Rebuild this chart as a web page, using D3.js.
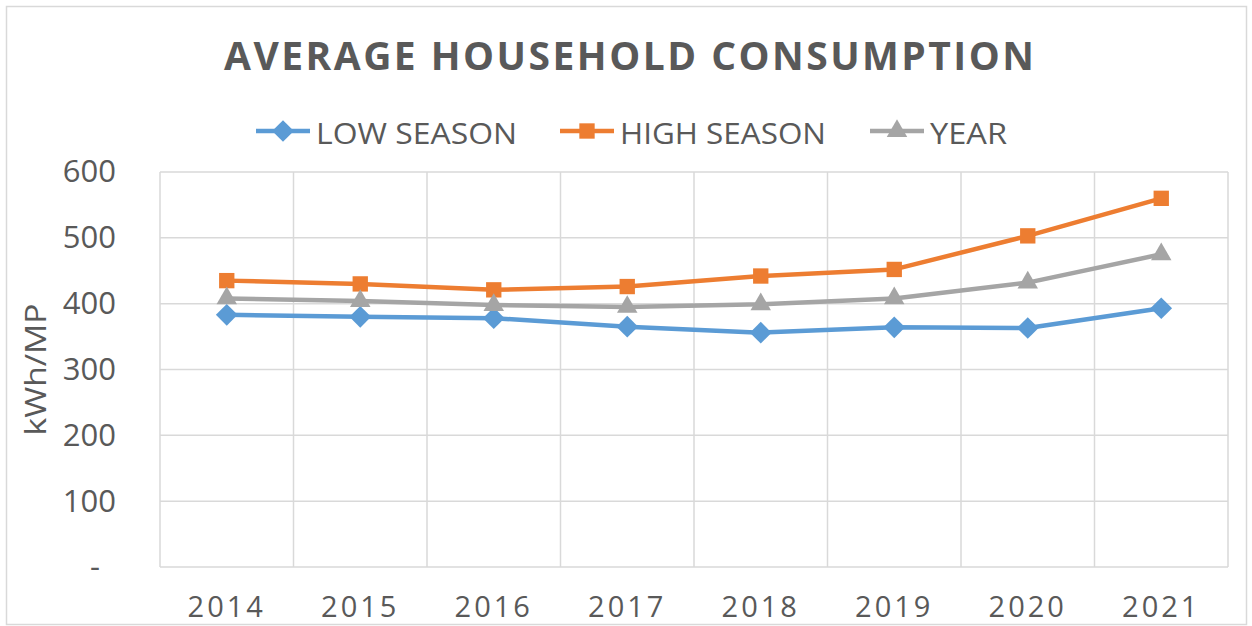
<!DOCTYPE html>
<html>
<head>
<meta charset="utf-8">
<script src="https://cdn.jsdelivr.net/npm/d3@7"></script>
<style>
  body { margin: 0; background: #fff; }
  text { font-family: "Open Sans", "Liberation Sans", sans-serif; fill: #595959; }
</style>
</head>
<body>
<div id="chart"></div>
<script>
// chart data
let years = ['2014', '2015', '2016', '2017', '2018', '2019', '2020', '2021'];
let lowSeason = [383, 380, 378, 365, 356, 364, 363, 393];
let highSeason = [435, 430, 421, 426, 442, 452, 503, 560];
let yearAvg = [408, 404, 398, 395, 399, 408, 432, 475];
let yTicks = [0, 100, 200, 300, 400, 500, 600];
let seriesNames = ['LOW SEASON', 'HIGH SEASON', 'YEAR'];

let series = [
  { name: seriesNames[0], values: lowSeason, color: '#5B9BD5', symbol: d3.symbolDiamond2, size: 300 },
  { name: seriesNames[1], values: highSeason, color: '#ED7D31', symbol: d3.symbolSquare2, size: 300 },
  { name: seriesNames[2], values: yearAvg, color: '#A5A5A5', symbol: d3.symbolTriangle2, size: 300 }
];

let width = 1252, height = 626;
let margin = { top: 172, right: 24, bottom: 59, left: 160 };

let svg = d3.select('#chart')
  .append('svg')
  .attr('width', width)
  .attr('height', height);

// outer border
svg.append('rect')
  .attr('x', 6.5).attr('y', 6.5)
  .attr('width', 1240).attr('height', 618)
  .attr('fill', 'none')
  .attr('stroke', '#d9d9d9')
  .attr('stroke-width', 1.5);

let xScale = d3.scaleBand()
  .domain(years)
  .range([margin.left, width - margin.right])
  .padding(0);

let yScale = d3.scaleLinear()
  .domain([0, 600])
  .range([height - margin.bottom, margin.top]);

// horizontal gridlines
svg.append('g')
  .selectAll('line')
  .data(yTicks)
  .enter()
  .append('line')
  .attr('x1', margin.left)
  .attr('x2', width - margin.right)
  .attr('y1', d => yScale(d))
  .attr('y2', d => yScale(d))
  .attr('stroke', '#d9d9d9')
  .attr('stroke-width', 1.5);

// vertical gridlines at category boundaries
let bounds = years.map(y => xScale(y)).concat([xScale.range()[1]]);
svg.append('g')
  .selectAll('line')
  .data(bounds)
  .enter()
  .append('line')
  .attr('x1', d => d)
  .attr('x2', d => d)
  .attr('y1', margin.top)
  .attr('y2', yScale(0))
  .attr('stroke', '#d9d9d9')
  .attr('stroke-width', 1.5);

// y axis labels
let yAxis = d3.axisLeft(yScale)
  .tickValues(yTicks)
  .tickSize(0)
  .tickPadding(0)
  .tickFormat(d => d === 0 ? '-' : d);

let yG = svg.append('g')
  .attr('transform', 'translate(116,0)')
  .call(yAxis);
yG.select('.domain').remove();
yG.selectAll('text')
  .style('font-size', '31px')
  .attr('fill', '#595959')
  .attr('x', d => d === 0 ? -16 : 0);

// x axis labels
let xAxis = d3.axisBottom(xScale).tickSize(0).tickPadding(0);
let xG = svg.append('g')
  .attr('transform', 'translate(0,' + 617 + ')')
  .call(xAxis);
xG.select('.domain').remove();
xG.selectAll('text')
  .style('font-size', '29px')
  .style('letter-spacing', '3px')
  .attr('fill', '#595959')
  .attr('dy', 0);

// y axis title
svg.append('text')
  .attr('transform', 'translate(46,' + ((margin.top + yScale(0)) / 2) + ') rotate(-90)')
  .attr('text-anchor', 'middle')
  .attr('textLength', 132)
  .attr('lengthAdjust', 'spacingAndGlyphs')
  .style('font-size', '30px')
  .text('kWh/MP');

// title
svg.append('text')
  .attr('x', 629)
  .attr('y', 70)
  .attr('text-anchor', 'middle')
  .attr('textLength', 810)
  .attr('lengthAdjust', 'spacing')
  .style('font-size', '39px')
  .style('font-weight', 'bold')
  .text('AVERAGE HOUSEHOLD CONSUMPTION');

// lines and markers
let line = d3.line()
  .x((d, i) => xScale(years[i]) + xScale.bandwidth() / 2)
  .y(d => yScale(d));

series.forEach(function(s) {
  svg.append('path')
    .datum(s.values)
    .attr('d', line)
    .attr('fill', 'none')
    .attr('stroke', s.color)
    .attr('stroke-width', 4.5)
    .attr('stroke-linejoin', 'round');

  svg.append('g')
    .selectAll('path')
    .data(s.values)
    .enter()
    .append('path')
    .attr('d', d3.symbol().type(s.symbol).size(s.size))
    .attr('transform', (d, i) => 'translate(' + (xScale(years[i]) + xScale.bandwidth() / 2) + ',' + yScale(d) + ')')
    .attr('fill', s.color);
});

// legend
let legendItems = [
  { x: 256, textLen: 201 },
  { x: 560, textLen: 206 },
  { x: 870, textLen: 77 }
];
series.forEach(function(s, i) {
  let lx = legendItems[i].x;
  let g = svg.append('g');
  g.append('line')
    .attr('x1', lx).attr('x2', lx + 54)
    .attr('y1', 131).attr('y2', 131)
    .attr('stroke', s.color)
    .attr('stroke-width', 4.5);
  g.append('path')
    .attr('d', d3.symbol().type(s.symbol).size(s.size))
    .attr('transform', 'translate(' + (lx + 27) + ',131)')
    .attr('fill', s.color);
  g.append('text')
    .attr('x', lx + 60)
    .attr('y', 144)
    .attr('textLength', legendItems[i].textLen)
    .attr('lengthAdjust', 'spacingAndGlyphs')
    .style('font-size', '30px')
    .text(s.name);
});
</script>
</body>
</html>
